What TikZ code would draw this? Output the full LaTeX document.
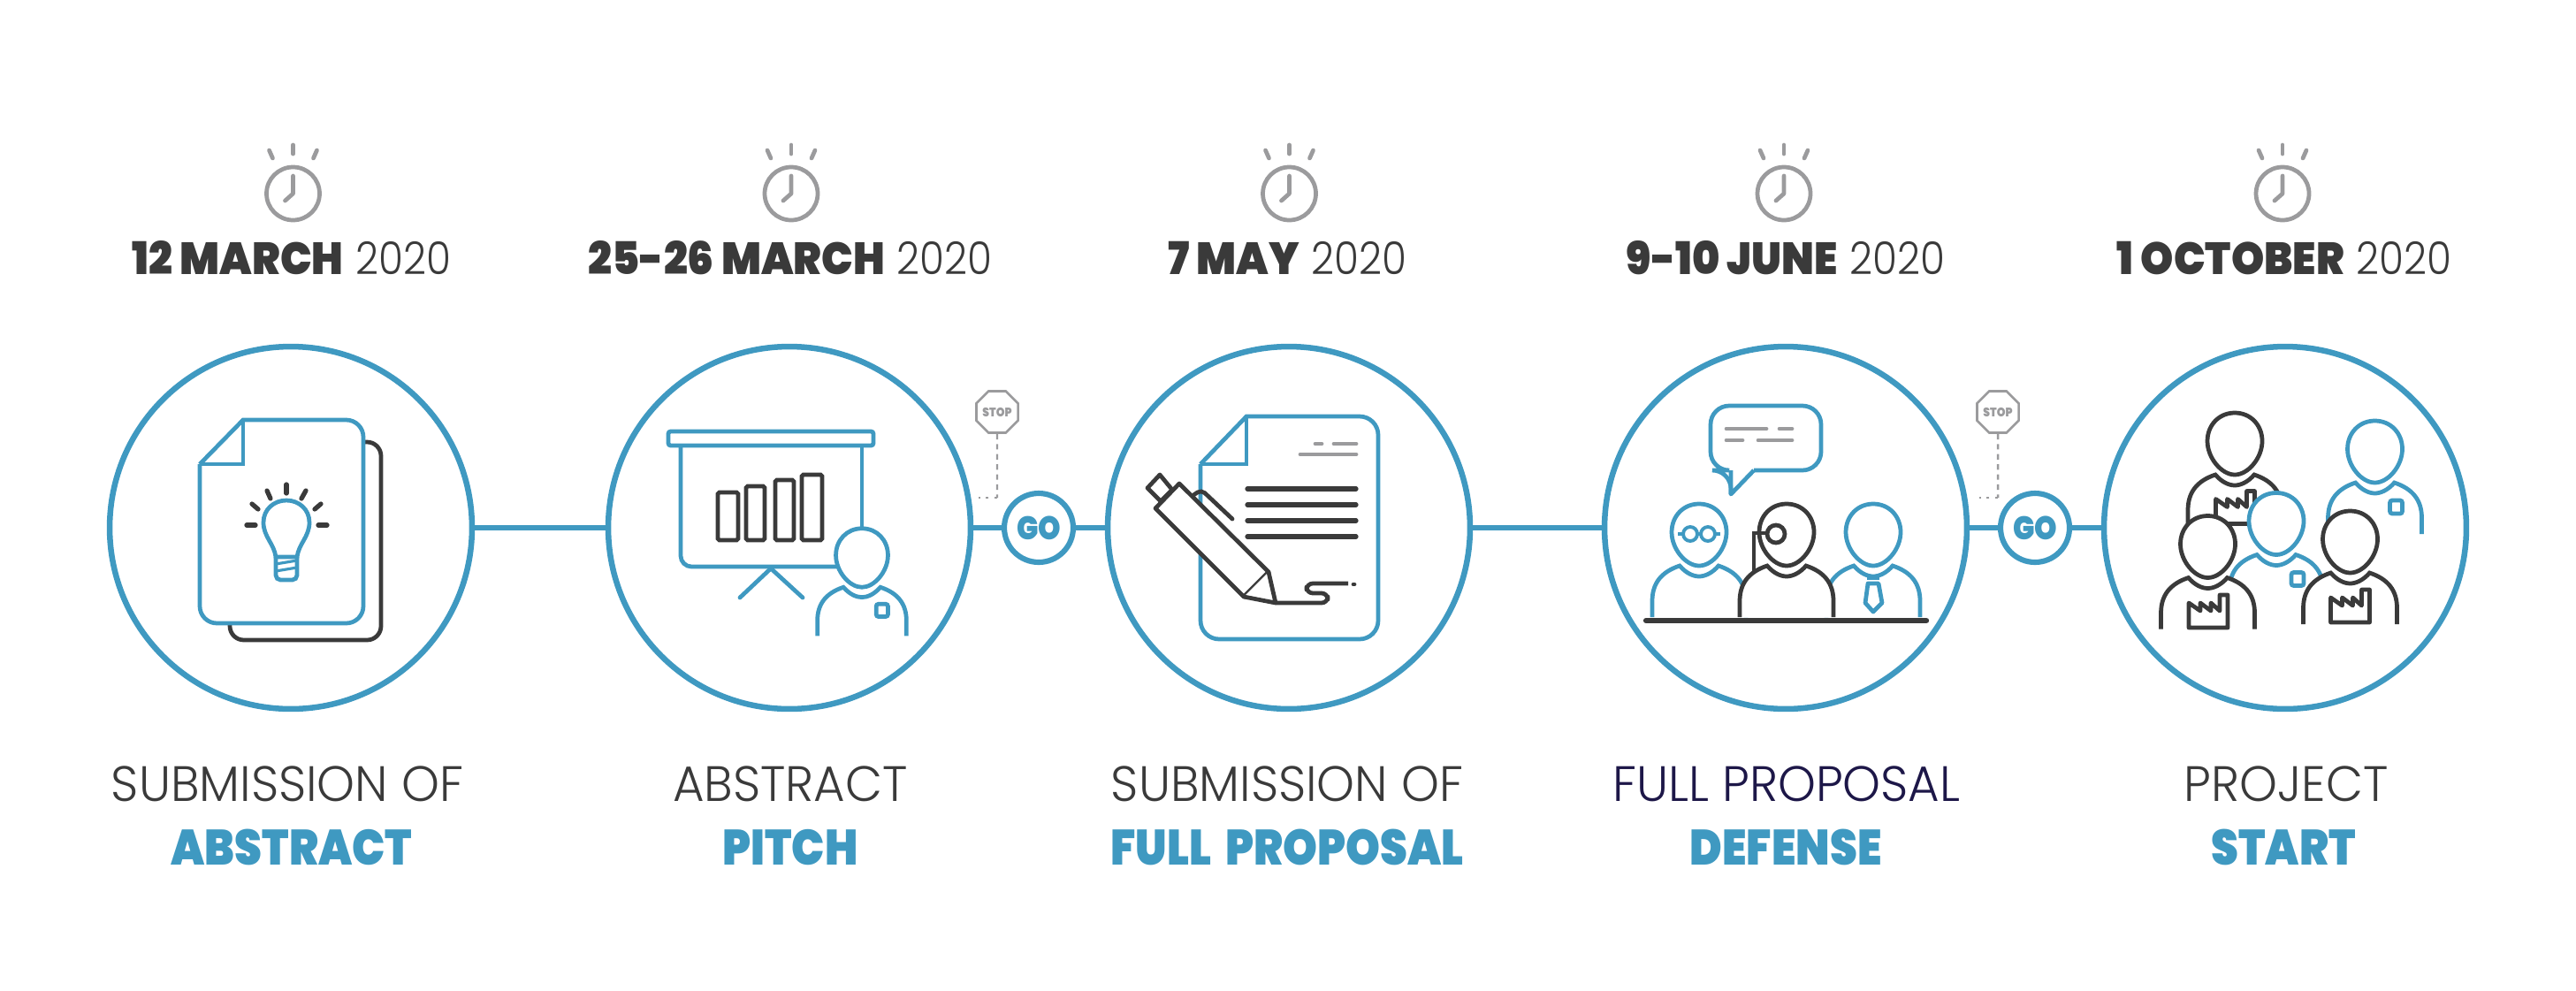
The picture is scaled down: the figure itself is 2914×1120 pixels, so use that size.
\documentclass[tikz,border=0pt]{standalone}
\usepackage{fontspec}
\usetikzlibrary{shapes.geometric}
\setmainfont{Poppins}
\newfontfamily\heavyfont{Poppins Black}[FakeStretch=0.88]
\newfontfamily\lightfont{Poppins Light}[FakeStretch=0.97]
\newfontfamily\datefont{Poppins Light}[FakeStretch=0.89]
\newfontfamily\dateheavy{Poppins Black}[FakeStretch=0.93]
\definecolor{iconblue}{HTML}{3F99C1}
\definecolor{icondark}{HTML}{3A3A3A}
\definecolor{icongray}{HTML}{9B9B9D}
\definecolor{iconnavy}{HTML}{1D1748}
\tikzset{
  bigring/.style={circle,draw=iconblue,line width=3.7pt,fill=white,minimum size=8.2cm,inner sep=0pt},
  goring/.style={circle,draw=iconblue,line width=3.5pt,fill=white,minimum size=1.56cm,inner sep=0pt,
    text=iconblue,font=\heavyfont\fontsize{21}{21}\selectfont},
  stopsign/.style={regular polygon,regular polygon sides=8,draw=icongray,
    line width=1.5pt,minimum size=1.02cm,inner sep=0pt,text=icongray,font=\heavyfont\fontsize{8}{8}\selectfont},
  datetext/.style={anchor=base,text=icondark,font=\fontsize{29}{29}\selectfont},
  toptext/.style={anchor=base,text=icondark,font=\lightfont\fontsize{32}{32}\selectfont},
  bottext/.style={anchor=base,text=iconblue,font=\heavyfont\fontsize{32}{32}\selectfont},
  link/.style={draw=iconblue,line width=3.3pt},
  blueline/.style={draw=iconblue,line width=2.7pt},
  darkline/.style={draw=icondark,line width=2.7pt},
  grayline/.style={draw=icongray,line width=2.7pt,line cap=round},
  darkbar/.style={draw=icondark,line width=3pt,line cap=round},
  pics/clock/.style={code={
    \draw[grayline] (0,0) circle [radius=30];
    \draw[grayline,line join=round] (0,-20) -- (0,0) -- (-9,8);
    \draw[grayline] (0,-55) -- (0,-45);
    \draw[grayline] (-27,-49) -- (-23,-40);
    \draw[grayline] (27,-49) -- (23,-40);
  }},
  pics/person/.style={code={
    \draw[#1,fill=white] (-53,93) -- (-53,75) .. controls (-53,55) and (-43,42) .. (-22,35)
      .. controls (-15,43) and (-7,47) .. (0,47) .. controls (7,47) and (15,43) .. (22,35)
      .. controls (43,42) and (53,55) .. (53,75) -- (53,93);
    \draw[#1,fill=white] (0,-35) .. controls (18,-35) and (31,-21) .. (31,-3)
      .. controls (31,16) and (15,35) .. (0,35) .. controls (-15,35) and (-31,16) .. (-31,-3)
      .. controls (-31,-21) and (-18,-35) .. (0,-35) -- cycle;
  }},
  pics/badge/.style={code={
    \draw[blueline,rounded corners=1.5pt] (17,55) rectangle (31,70);
  }},
  pics/factory/.style={code={
    \draw[darkline,fill=white,line join=round] (0,-28) -- (13,-19) -- (13,-28) -- (25,-19) -- (25,-28)
      -- (35,-19) -- (35,-37) -- (44,-37) -- (44,0) -- (0,0) -- cycle;
  }},
}
\begin{document}
\begin{tikzpicture}[x=0.02cm,y=-0.02cm]
  \useasboundingbox (0,0) rectangle (2914,1120);
  % rings and stops
  \draw
    (329,597) node[bigring] (0){}
    (893,597) node[bigring] (1){}
    (1458,597) node[bigring] (2){}
    (2020,597) node[bigring] (3){}
    (2585,597) node[bigring] (4){}
    (1175,597) node[goring] (go0){GO}
    (2302,597) node[goring] (go1){GO}
    (1128,466) node[stopsign] (stop0){STOP}
    (2260,466) node[stopsign] (stop1){STOP};
  \coordinate (bend0) at (1128,563);
  \coordinate (free0) at (1107,563);
  \coordinate (bend1) at (2260,563);
  \coordinate (free1) at (2239,563);
  \begin{scope}[link]
    \draw (0) to (1);
    \draw (1) to (go0);
    \draw (go0) to (2);
    \draw (2) to (3);
    \draw (3) to (go1);
    \draw (go1) to (4);
  \end{scope}
  \begin{scope}[draw=icongray,line width=1.4pt]
    \draw[dash pattern=on 3.5pt off 3pt] (stop0) to (bend0);
    \draw[dash pattern=on 2pt off 3.5pt] (bend0) to (free0);
    \draw[dash pattern=on 3.5pt off 3pt] (stop1) to (bend1);
    \draw[dash pattern=on 2pt off 3.5pt] (bend1) to (free1);
  \end{scope}
  % clocks
  \pic at (331.5,219) {clock};
  \pic at (895,219) {clock};
  \pic at (1458.5,219) {clock};
  \pic at (2018,219) {clock};
  \pic at (2582,219) {clock};
  % texts
  \draw
    (330,310) node[datetext] (date0){{\dateheavy 12 MARCH} {\datefont 2020}}
    (894,310) node[datetext] (date1){{\dateheavy 25-26 MARCH} {\datefont 2020}}
    (1456,310) node[datetext] (date2){{\dateheavy 7 MAY} {\datefont 2020}}
    (2020,310) node[datetext] (date3){{\dateheavy 9-10 JUNE} {\datefont 2020}}
    (2584,310) node[datetext] (date4){{\dateheavy 1 OCTOBER} {\datefont 2020}}
    (325,906) node[toptext] (top0){SUBMISSION OF}
    (894,906) node[toptext] (top1){ABSTRACT}
    (1456,906) node[toptext] (top2){SUBMISSION OF}
    (2021,906) node[toptext,text=iconnavy] (top3){FULL PROPOSAL}
    (2586,906) node[toptext] (top4){PROJECT}
    (330,978) node[bottext] (bot0){ABSTRACT}
    (894,978) node[bottext] (bot1){PITCH}
    (1456,978) node[bottext] (bot2){FULL\hspace{4pt} PROPOSAL}
    (2020,978) node[bottext] (bot3){DEFENSE}
    (2583,978) node[bottext] (bot4){START};
  % first icon
  \draw[darkline,rounded corners=9pt] (411,500) -- (431,500) -- (431,724) -- (260,724) -- (260,705);
  \draw[blueline,fill=white] (226,525) -- (275,475) [rounded corners=11pt] -- (411,475) -- (411,705) -- (226,705) -- (226,525);
  \draw[blueline] (226,525) -- (275,525) -- (275,475);
  \draw[blueline] (312,630) .. controls (310,615) and (298,607) .. (298,591) .. controls (298,576) and (310,566) .. (324,566)
    .. controls (338,566) and (350,576) .. (350,591) .. controls (350,607) and (338,615) .. (336,630) -- cycle;
  \draw[blueline,rounded corners=3pt] (312,630) -- (312,656) -- (336,656) -- (336,630);
  \draw[blueline,line width=1.8pt] (312,638) -- (336,634) (312,646) -- (336,642);
  \draw[darkbar] (324,548) -- (324,558);
  \draw[darkbar] (302,555) -- (306,564);
  \draw[darkbar] (346,555) -- (341,564);
  \draw[darkbar] (285,570) -- (292,576);
  \draw[darkbar] (363,570) -- (356,576);
  \draw[darkbar] (279,594) -- (289,594);
  \draw[darkbar] (360,594) -- (370,594);
  % second icon
  \draw[blueline,rounded corners=1.5pt] (756,488) rectangle (988,504);
  \draw[blueline] (975,504) -- (975,600);
  \draw[blueline,rounded corners=7pt] (770,504) -- (770,641) -- (950,641);
  \draw[blueline,line cap=round] (837,676) -- (872,643) -- (908,676);
  \draw[darkline,rounded corners=1pt] (812,557) rectangle (835,611);
  \draw[darkline,rounded corners=1pt] (844,550) rectangle (865,611);
  \draw[darkline,rounded corners=1pt] (877,543) rectangle (898,611);
  \draw[darkline,rounded corners=1pt] (907,537) rectangle (930,611);
  \pic[scale=.95] at (975,631) {person=blueline};
  \pic[scale=.95] at (975,631) {badge};
  % third icon
  \draw[blueline,fill=white] (1358,525) -- (1410,471) [rounded corners=12pt] -- (1559,471) -- (1559,723) -- (1358,723) -- (1358,525);
  \draw[blueline] (1358,525) -- (1410,525) -- (1410,471);
  \draw[darkbar] (1411,553) -- (1534,553);
  \draw[darkbar] (1411,571) -- (1534,571);
  \draw[darkbar] (1411,589) -- (1534,589);
  \draw[darkbar] (1411,607) -- (1534,607);
  \draw[grayline] (1488,502) -- (1495,502);
  \draw[grayline] (1509,502) -- (1534,502);
  \draw[grayline] (1471,514) -- (1534,514);
  \draw[darkline,fill=white,line join=round] (1334,547) -- (1435,647) -- (1407,675) -- (1307,575) -- cycle;
  \draw[darkline,fill=white,line join=round] (1435,647) -- (1443,682) -- (1407,675);
  \draw[darkline,fill=white,line join=round] (1312,537) -- (1298,552) -- (1313,567) -- (1326,554) -- cycle;
  \draw[darkline,line cap=round,rounded corners=3pt] (1350,560) -- (1359,554) -- (1394,587);
  \draw[darkline,line join=round,rounded corners=4pt] (1443,682) -- (1502,682) -- (1502,671) -- (1478,671) -- (1478,660) -- (1525,660);
  \draw[darkline,line cap=round] (1531,661) -- (1532,661);
  % fourth icon
  \draw[blueline,rounded corners=12pt] (1958,559) -- (1958,532) -- (1935,532) -- (1935,459) -- (2060,459) -- (2060,532) -- (1984,532);
  \draw[blueline,line join=round] (1958,532) -- (1958,559) -- (1984,532);
  \draw[grayline] (1953,485) -- (1998,485);
  \draw[grayline] (2013,485) -- (2027,485);
  \draw[grayline] (1953,498) -- (1971,498);
  \draw[grayline] (1989,498) -- (2027,498);
  \pic at (1922,605) {person=blueline};
  \pic at (2119,605) {person=blueline};
  \draw[blueline,line width=2.2pt] (1912,604) circle [radius=8];
  \draw[blueline,line width=2.2pt] (1932,604) circle [radius=8];
  \draw[blueline,line width=2.2pt] (1898,604) -- (1904,604) (1920,604) -- (1924,604) (1940,604) -- (1946,604);
  \draw[blueline,fill=white,line join=round] (2113,660) -- (2125,660) -- (2129,682) -- (2119,692) -- (2110,682) -- cycle;
  \draw[blueline] (2112,654) -- (2126,654);
  \draw[darkline] (1984,650) -- (1984,603) -- (2000,603);
  \pic at (2021,605) {person=darkline};
  \draw[darkline] (2009,604) circle [radius=10];
  \draw[darkline] (1984,603) -- (1999,603);
  \draw[draw=icondark,line width=3.6pt,line cap=round] (1862,702) -- (2179,702);
  % fifth icon
  \pic at (2528,502) {person=darkline};
  \pic at (2506.5,592.5) {factory};
  \pic at (2686.5,511) {person=blueline};
  \pic at (2686.5,511) {badge};
  \pic at (2575,592.5) {person=blueline};
  \pic at (2575,592.5) {badge};
  \pic at (2497.5,618.5) {person=darkline};
  \pic at (2476,710) {factory};
  \pic at (2658.5,613) {person=darkline};
  \pic at (2636.5,704) {factory};
\end{tikzpicture}
\end{document}
